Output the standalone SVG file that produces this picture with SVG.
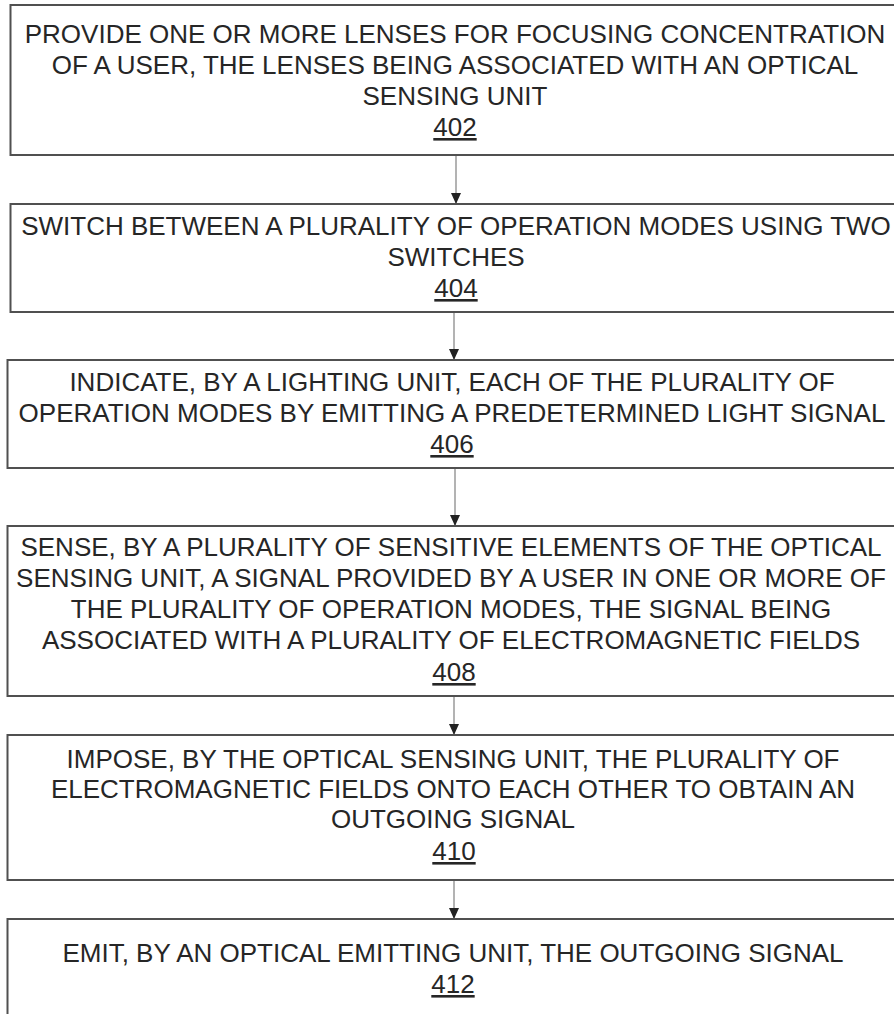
<svg xmlns="http://www.w3.org/2000/svg" width="894" height="1014" viewBox="0 0 894 1014">
<style>
.box{fill:#fff;stroke:#505050;stroke-width:2}
.t{font-family:"Liberation Sans",Arial,sans-serif;font-size:26px;fill:#262626;text-anchor:middle}
.n{text-decoration:underline}
.c{stroke:#808080;stroke-width:1.2;fill:none}
</style>
<defs>
<marker id="ah" markerWidth="12" markerHeight="10" refX="11" refY="5" orient="auto" markerUnits="userSpaceOnUse">
<path d="M0,0 L11,5 L0,10 Z" fill="#222"/>
</marker>
</defs>
<rect width="894" height="1014" fill="#fff"/>
<g id="connectors">
<line class="c" x1="456" y1="156" x2="456" y2="204" marker-end="url(#ah)"/>
<line class="c" x1="454" y1="313" x2="454" y2="360" marker-end="url(#ah)"/>
<line class="c" x1="455" y1="469" x2="455" y2="526" marker-end="url(#ah)"/>
<line class="c" x1="454" y1="697" x2="454" y2="735" marker-end="url(#ah)"/>
<line class="c" x1="454" y1="880" x2="454" y2="919" marker-end="url(#ah)"/>
</g>
<g id="n402">
<rect class="box" x="10.5" y="5" width="890" height="150"/>
<text class="t" x="455" y="43">PROVIDE ONE OR MORE LENSES FOR FOCUSING CONCENTRATION</text>
<text class="t" x="455" y="74">OF A USER, THE LENSES BEING ASSOCIATED WITH AN OPTICAL</text>
<text class="t" x="455" y="105">SENSING UNIT</text>
<text class="t n" x="455" y="136">402</text>
</g>
<g id="n404">
<rect class="box" x="10.5" y="204" width="890" height="108"/>
<text class="t" x="456" y="235">SWITCH BETWEEN A PLURALITY OF OPERATION MODES USING TWO</text>
<text class="t" x="456" y="266">SWITCHES</text>
<text class="t n" x="456" y="297">404</text>
</g>
<g id="n406">
<rect class="box" x="7.5" y="360" width="893" height="108"/>
<text class="t" x="452" y="391">INDICATE, BY A LIGHTING UNIT, EACH OF THE PLURALITY OF</text>
<text class="t" x="452" y="422">OPERATION MODES BY EMITTING A PREDETERMINED LIGHT SIGNAL</text>
<text class="t n" x="452" y="453">406</text>
</g>
<g id="n408">
<rect class="box" x="7.5" y="526" width="893" height="170"/>
<text class="t" x="451" y="556">SENSE, BY A PLURALITY OF SENSITIVE ELEMENTS OF THE OPTICAL</text>
<text class="t" x="451" y="587">SENSING UNIT, A SIGNAL PROVIDED BY A USER IN ONE OR MORE OF</text>
<text class="t" x="451" y="618">THE PLURALITY OF OPERATION MODES, THE SIGNAL BEING</text>
<text class="t" x="451" y="649">ASSOCIATED WITH A PLURALITY OF ELECTROMAGNETIC FIELDS</text>
<text class="t n" x="454" y="681">408</text>
</g>
<g id="n410">
<rect class="box" x="7.5" y="735" width="893" height="145"/>
<text class="t" x="453" y="768">IMPOSE, BY THE OPTICAL SENSING UNIT, THE PLURALITY OF</text>
<text class="t" x="453" y="798">ELECTROMAGNETIC FIELDS ONTO EACH OTHER TO OBTAIN AN</text>
<text class="t" x="453" y="828">OUTGOING SIGNAL</text>
<text class="t n" x="454" y="860">410</text>
</g>
<g id="n412">
<rect class="box" x="7.5" y="919" width="893" height="110"/>
<text class="t" x="453" y="962">EMIT, BY AN OPTICAL EMITTING UNIT, THE OUTGOING SIGNAL</text>
<text class="t n" x="453" y="993">412</text>
</g>
</svg>
